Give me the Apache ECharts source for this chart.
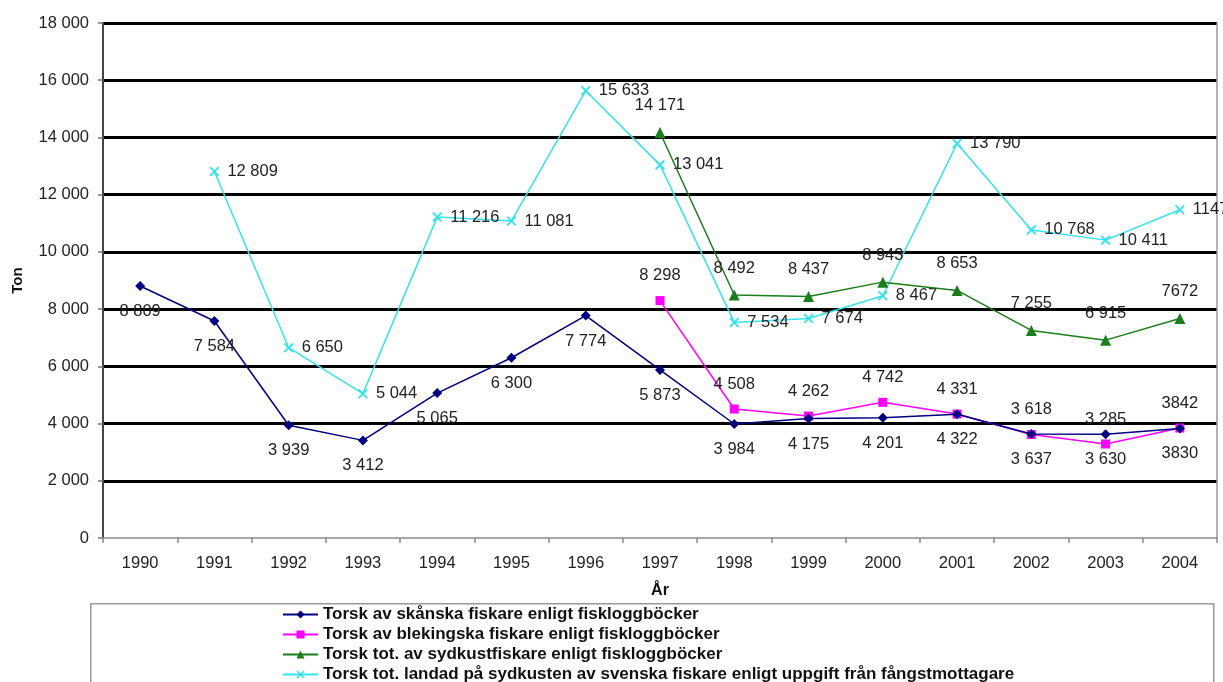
<!DOCTYPE html>
<html>
<head>
<meta charset="utf-8">
<script src="https://cdn.jsdelivr.net/npm/echarts@6/dist/echarts.min.js"></script>
<style>
html,body{margin:0;padding:0;background:#fff;}
#c{width:1223px;height:682px;}
</style>
</head>
<body>
<div id="c"></div>
<script>
var years = ['1990','1991','1992','1993','1994','1995','1996','1997','1998','1999','2000','2001','2002','2003','2004'];
var skanska = [8809, 7584, 3939, 3412, 5065, 6300, 7774, 5873, 3984, 4175, 4201, 4322, 3637, 3630, 3830];
var blekingska = [null, null, null, null, null, null, null, 8298, 4508, 4262, 4742, 4331, 3618, 3285, 3842];
var sydkust = [null, null, null, null, null, null, null, 14171, 8492, 8437, 8943, 8653, 7255, 6915, 7672];
var landad = [null, 12809, 6650, 5044, 11216, 11081, 15633, 13041, 7534, 7674, 8467, 13790, 10768, 10411, 11472];
var seriesNames = [
  'Torsk av skånska fiskare enligt fiskloggböcker',
  'Torsk av blekingska fiskare enligt fiskloggböcker',
  'Torsk tot. av sydkustfiskare enligt fiskloggböcker',
  'Torsk tot. landad på sydkusten av svenska fiskare enligt uppgift från fångstmottagare'
];
var plainLabelYears = ['2004'];
var yTicks = {min: 0, max: 18000, interval: 2000};

function spaced(v) {
  return String(v).replace(/\B(?=(\d{3})+(?!\d))/g, ' ');
}
function labelFmt(p) {
  if (plainLabelYears.indexOf(p.name) >= 0) return String(p.value);
  return spaced(p.value);
}
var FONT = 'Liberation Sans, Arial, sans-serif';
var xShape = 'path://M0,1.3L1.3,0L5,3.7L8.7,0L10,1.3L6.3,5L10,8.7L8.7,10L5,6.3L1.3,10L0,8.7L3.7,5Z';

var labelBase = {show: true, formatter: labelFmt, color: '#222', fontSize: 16.5, fontFamily: FONT};

var chart = echarts.init(document.getElementById('c'));
chart.setOption({
  animation: false,
  backgroundColor: '#fff',
  grid: {left: 103, right: 6, top: 23, bottom: 144, containLabel: false, outerBoundsMode: 'none'},
  graphic: [{
    type: 'rect', left: 90, top: 603,
    shape: {width: 1123, height: 100},
    style: {fill: '#fff', stroke: '#999', lineWidth: 1.5},
    z: -1
  }],
  legend: {
    orient: 'vertical', left: 277, top: 601, height: 200,
    itemWidth: 35, itemHeight: 10, itemGap: 3,
    textStyle: {fontFamily: FONT, fontWeight: 'bold', fontSize: 17, color: '#111', lineHeight: 15},
    data: seriesNames
  },
  xAxis: {
    type: 'category', data: years,
    name: 'År', nameLocation: 'middle', nameGap: 45,
    nameTextStyle: {fontFamily: FONT, fontWeight: 'bold', fontSize: 16, color: '#111'},
    axisLine: {lineStyle: {color: '#8a8a8a', width: 1.5}},
    axisTick: {show: true, length: 5, lineStyle: {color: '#8a8a8a', width: 1.5}},
    axisLabel: {color: '#222', fontSize: 16.5, fontFamily: FONT, margin: 17}
  },
  yAxis: [{
    type: 'value', min: yTicks.min, max: yTicks.max, interval: yTicks.interval,
    name: 'Ton', nameLocation: 'middle', nameGap: 78,
    nameTextStyle: {fontFamily: FONT, fontWeight: 'bold', fontSize: 15, color: '#111'},
    axisLine: {show: true, lineStyle: {color: '#444', width: 2}},
    axisTick: {show: true, length: 5, lineStyle: {color: '#777', width: 1.5}},
    axisLabel: {color: '#222', fontSize: 16.5, fontFamily: FONT, margin: 14, formatter: function (v) { return spaced(v); }},
    splitLine: {show: true, showMinLine: false, lineStyle: {color: '#000', width: 3}}
  }, {
    type: 'value', position: 'right', min: yTicks.min, max: yTicks.max, interval: yTicks.interval,
    axisLine: {show: true, lineStyle: {color: '#9a9a9a', width: 1.5}},
    axisTick: {show: false}, axisLabel: {show: false}, splitLine: {show: false}
  }],
  series: [{
    name: seriesNames[0], type: 'line', data: skanska,
    symbol: 'diamond', symbolSize: 10,
    lineStyle: {color: '#000080', width: 1.5}, itemStyle: {color: '#000080'},
    label: Object.assign({position: 'bottom', distance: 12}, labelBase),
    z: 4
  }, {
    name: seriesNames[1], type: 'line', data: blekingska,
    symbol: 'rect', symbolSize: 9,
    lineStyle: {color: '#ff00ff', width: 1.5}, itemStyle: {color: '#ff00ff'},
    label: Object.assign({position: 'top', distance: 12}, labelBase),
    z: 3
  }, {
    name: seriesNames[2], type: 'line', data: sydkust,
    symbol: 'triangle', symbolSize: 11,
    lineStyle: {color: '#1b7d1b', width: 1.5}, itemStyle: {color: '#1b7d1b'},
    label: Object.assign({position: 'top', distance: 13}, labelBase),
    z: 3
  }, {
    name: seriesNames[3], type: 'line', data: landad,
    symbol: xShape, symbolSize: 10,
    lineStyle: {color: '#33e3ec', width: 1.5}, itemStyle: {color: '#33e3ec'},
    label: Object.assign({position: 'right', distance: 8}, labelBase),
    z: 2
  }]
});
</script>
</body>
</html>
